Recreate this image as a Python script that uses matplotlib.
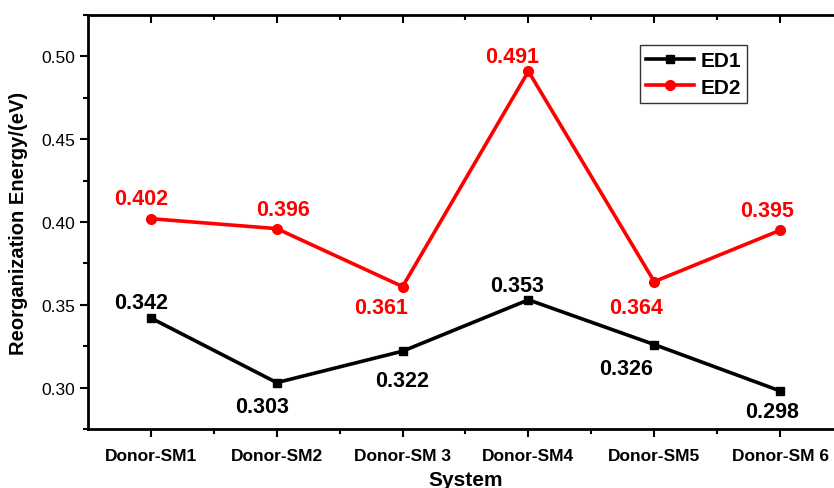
import matplotlib.pyplot as plt
from matplotlib.ticker import MultipleLocator, FixedLocator

plt.rcParams['font.family'] = ['Liberation Sans', 'DejaVu Sans']

# === data ===
systems = ["Donor-SM1", "Donor-SM2", "Donor-SM 3", "Donor-SM4", "Donor-SM5", "Donor-SM 6"]
ed1 = [0.342, 0.303, 0.322, 0.353, 0.326, 0.298]
ed2 = [0.402, 0.396, 0.361, 0.491, 0.364, 0.395]

# label offsets in pixels (dx, dy) relative to each point
ed1_off = [(-10, 16), (-15, -24), (0, -29), (-11, 14), (-28, -24), (-8, -21)]
ed2_off = [(-10, 20), (6, 19), (-22, -21), (-16, 15), (-18, -26), (-13, 20)]

x = list(range(1, len(systems) + 1))

fig = plt.figure(figsize=(8.34, 4.89), dpi=100)
ax = fig.add_axes([88 / 834, 1 - 430 / 489, (843 - 88) / 834, (430 - 16) / 489])

ax.plot(x, ed1, color="black", lw=2.6, marker="s", ms=6, label="ED1")
ax.plot(x, ed2, color="#ff0000", lw=2.6, marker="o", ms=7, label="ED2")

for xi, v, (dx, dy) in zip(x, ed1, ed1_off):
    ax.annotate(f"{v:.3f}", (xi, v), xytext=(dx, dy), textcoords="offset pixels",
                ha="center", va="center", fontsize=15.5, fontweight="bold", color="black")
for xi, v, (dx, dy) in zip(x, ed2, ed2_off):
    ax.annotate(f"{v:.3f}", (xi, v), xytext=(dx, dy), textcoords="offset pixels",
                ha="center", va="center", fontsize=15.5, fontweight="bold", color="#ff0000")

ax.set_xlim(0.5, 6.5)
ax.set_ylim(0.275, 0.525)
ax.set_xticks(x)
ax.set_xticklabels(systems, fontsize=12.5, fontweight="bold")
ax.xaxis.set_minor_locator(FixedLocator([1.5, 2.5, 3.5, 4.5, 5.5]))
ax.yaxis.set_major_locator(FixedLocator([0.30, 0.35, 0.40, 0.45, 0.50]))
ax.yaxis.set_major_formatter(plt.FuncFormatter(lambda v, p: f"{v:.2f}"))
ax.yaxis.set_minor_locator(MultipleLocator(0.025))

ax.tick_params(axis="y", which="major", direction="out", length=6, width=1.5, labelsize=12.5)
ax.tick_params(axis="y", which="minor", direction="out", length=3.5, width=1.5)
ax.tick_params(axis="x", which="major", direction="out", length=6, width=1.5, top=True, pad=8)
ax.tick_params(axis="x", which="minor", direction="out", length=3.5, width=1.5, top=True)
for t in ax.xaxis.get_major_ticks() + ax.xaxis.get_minor_ticks():
    t.tick2line.set_marker(3)  # top ticks pointing inward

for s in ax.spines.values():
    s.set_linewidth(2)

ax.set_xlabel("System", fontsize=15, fontweight="bold", labelpad=5)
ax.set_ylabel("Reorganization Energy/(eV)", fontsize=14.5, fontweight="bold", labelpad=9)

leg = ax.legend(loc="upper left", bbox_to_anchor=((640 - 88) / 755, 1 - (46 - 16) / 414),
                prop={"size": 15, "weight": "bold"}, fancybox=False, framealpha=1,
                edgecolor="#333333", handlelength=2.3, handletextpad=0.3,
                borderpad=0.3, labelspacing=0.35, borderaxespad=0)
leg.get_frame().set_linewidth(1)

fig.savefig("out.png", dpi=100)
